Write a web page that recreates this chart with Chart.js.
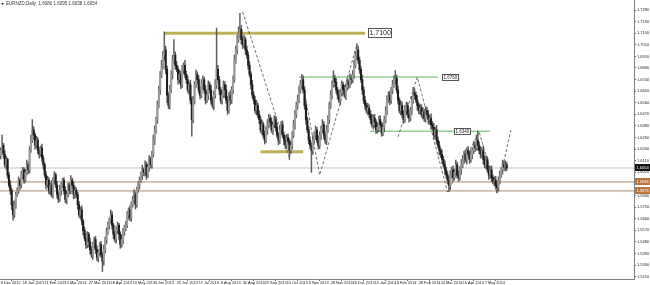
<!DOCTYPE html>
<html><head><meta charset="utf-8">
<script src="https://cdn.jsdelivr.net/npm/chart.js@4.4.0/dist/chart.umd.min.js"></script>
<style>html,body{margin:0;padding:0;background:#fff;overflow:hidden}#wrap{width:650px;height:285px;position:relative}</style>
</head><body><div id="wrap"><canvas id="c" width="650" height="285"></canvas></div>
<script>
const symbolTitle = 'EURNZD,Daily';
const headerValues = ['1.6080', '1.6095', '1.6038', '1.6054'];
const dateLabels = ['6 Dec 2012','18 Jan 2013','11 Feb 2013','5 Mar 2013','27 Mar 2013','18 Apr 2013','10 May 2013','3 Jun 2013','25 Jun 2013','17 Jul 2013','8 Aug 2013','30 Aug 2013','23 Sep 2013','15 Oct 2013','6 Nov 2013','28 Nov 2013','20 Dec 2013','15 Jan 2014','6 Feb 2014','28 Feb 2014','24 Mar 2014','15 Apr 2014','7 May 2014'];
const barsPerDateLabel = 16;
const firstOpen = 1.615;
const closes = [
1.619,1.623,1.616,1.608,1.612,1.600,1.592,1.588,1.577,1.569,
1.577,1.585,1.588,1.596,1.592,1.600,1.604,1.596,1.602,1.608,1.604,
1.619,1.627,1.635,1.631,1.623,
1.627,1.619,1.616,1.621,1.613,1.608,1.600,1.592,1.596,
1.588,1.592,1.585,1.596,1.600,1.592,1.585,1.581,1.588,1.592,1.596,1.588,1.581,1.585,1.592,1.588,1.596,1.592,1.585,1.588,
1.585,1.577,1.569,1.573,1.564,1.557,
1.551,1.546,1.554,1.548,1.542,1.538,1.546,1.550,1.542,1.536,1.540,1.546,1.538,1.533,
1.542,1.550,1.556,1.561,1.565,1.569,1.561,1.554,1.550,1.557,1.561,1.554,1.546,1.550,1.556,1.559,
1.561,1.569,1.573,1.567,1.577,1.581,1.585,1.577,1.589,1.592,1.596,1.600,1.604,
1.602,1.608,1.600,1.606,1.612,1.608,
1.616,1.627,1.635,1.643,1.654,1.666,1.678,
1.685,1.693,1.697,1.682,1.662,
1.654,1.666,1.678,1.689,1.693,1.685,
1.682,1.674,1.678,1.670,1.682,1.685,1.678,1.674,1.666,1.670,1.658,1.643,
1.658,1.670,1.678,1.674,1.666,1.662,1.670,1.674,1.666,1.658,1.662,1.670,1.666,1.658,1.654,1.662,1.670,
1.682,
1.674,1.666,1.658,1.662,1.670,1.666,1.658,1.650,1.662,1.658,1.666,1.674,
1.689,1.697,1.705,1.709,1.713,1.705,1.701,
1.705,1.697,1.693,1.685,1.678,
1.670,1.662,1.658,1.650,1.654,1.647,
1.643,1.635,1.639,1.631,1.627,1.635,
1.639,1.644,1.641,1.635,1.639,1.643,1.637,1.631,1.627,1.635,1.639,1.631,1.627,1.623,1.629,1.626,1.619,1.623,
1.631,1.639,1.647,1.654,1.658,1.666,1.670,1.674,
1.666,1.654,1.643,1.635,1.627,1.623,1.619,
1.627,1.631,1.635,1.627,1.623,1.631,1.635,1.639,1.631,1.627,1.635,1.643,
1.654,1.662,1.670,1.675,1.672,
1.666,1.662,1.658,1.664,1.670,1.666,1.662,1.668,1.672,1.670,1.675,1.674,1.678,
1.685,1.693,1.697,1.689,1.682,
1.674,1.666,1.658,1.654,1.650,1.652,
1.647,1.643,1.639,1.644,1.641,1.635,1.637,1.643,1.639,1.633,1.637,1.643,
1.650,1.658,1.662,1.658,1.666,1.670,1.674,1.675,1.666,
1.658,1.650,1.654,1.647,1.643,1.650,1.654,1.647,1.644,1.650,1.658,
1.664,1.662,1.658,
1.654,1.650,1.652,1.647,1.649,1.644,1.650,1.647,1.643,1.644,1.639,1.637,
1.631,1.635,1.627,1.623,1.619,1.616,1.612,1.608,1.604,1.600,1.596,1.592,
1.600,1.604,1.598,1.602,1.608,1.600,1.598,1.604,1.608,
1.612,1.616,1.612,1.619,1.616,1.612,1.616,1.619,1.623,1.621,1.627,
1.623,
1.619,1.616,1.619,1.612,1.608,1.612,1.604,1.600,1.604,1.598,1.595,1.596,1.592,1.590,
1.596,1.600,1.604,1.608,1.606,1.608,1.6054
];
const upperWicksPips = [
20,80,15,30,25,10,20,35,15,25, 30,15,20,25,10,30,20,15,25,35,
20,30,40,80,25,15,30,20,25,15, 30,20,15,25,30,20,15,35,20,25,
15,30,20,40,25,15,20,30,25,15, 20,35,15,25,30,20,15,25,20,30,
15,25,35,20,15,30,25,20,15,25, 30,20,15,25,20,35,20,30,25,15,
40,25,15,20,30,25,15,20,35,25, 20,30,25,15,30,20,25,35,20,15,
30,25,20,35,15,30,20,25,30,20, 25,40,30,20,35,30,25,40,30,140,
30,25,20,35,30,40,120,25,30,20, 35,25,30,20,40,25,30,20,35,25,
30,25,35,20,30,25,40,30,20,35, 25,30,20,35,25,30,40,320,30,25,
20,35,30,25,40,30,20,35,25,30, 40,30,35,60,125,30,25,35,20,30,
25,30,20,35,25,30,40,20,30,25, 35,20,30,25,40,30,25,35,20,30,
25,30,20,35,25,30,20,35,25,30, 20,30,25,35,30,25,40,30,35,40,
30,25,35,20,30,25,20,35,25,30, 20,35,25,30,40,25,20,35,30,25,
35,30,60,25,30,20,35,25,30,20, 35,25,30,20,35,25,30,40,30,50,
30,25,20,35,25,30,20,35,25,30, 40,25,30,20,35,25,30,20,35,25,
30,35,25,30,20,35,30,60,25,30, 20,35,25,30,40,25,20,35,25,30,
40,30,25,35,20,30,25,35,20,30, 25,30,20,35,25,30,20,35,25,30,
20,35,25,30,20,25,30,35,20,30, 25,35,20,30,25,40,30,25,35,20,
30,25,35,20,30,25,40,70,25,30, 20,35,25,30,20,35,25,30,20,25,
30,35,25,30,20,35,25,30,20
];
const lowerWicksPips = [
25,15,30,20,35,25,15,30,40,40, 20,30,15,25,35,20,30,25,15,20,
30,25,15,20,35,30,20,25,30,15, 25,35,20,30,15,25,35,20,30,25,
20,30,25,15,35,20,30,25,35,20, 30,25,20,35,30,25,35,20,30,25,
35,20,30,25,40,30,20,35,25,30, 25,35,30,20,80,30,25,35,20,30,
25,30,35,20,30,25,40,30,20,35, 30,25,20,35,25,30,20,25,35,20,
25,30,20,35,25,30,35,20,30,25, 30,20,35,25,30,20,35,25,30,40,
35,60,25,30,20,35,25,30,20,35, 25,30,20,35,25,30,20,35,30,130,
25,30,20,35,25,30,20,35,25,30, 20,35,25,30,20,35,25,30,20,35,
25,30,20,60,25,30,20,35,25,30, 20,25,30,20,25,35,30,20,35,25,
30,20,35,25,30,20,35,25,30,20, 35,25,30,20,35,25,30,20,35,25,
30,20,35,25,30,20,35,25,30,20, 70,25,30,20,35,25,30,20,25,30,
25,30,35,20,30,25,170,30,25,35, 20,30,25,35,20,30,25,35,20,30,
25,30,20,35,25,30,20,35,25,30, 20,35,25,30,20,35,25,30,20,35,
25,30,20,35,25,30,20,35,25,30, 20,35,40,30,25,35,20,30,25,35,
25,30,20,35,25,30,20,35,25,30, 20,35,25,30,20,35,25,30,20,35,
25,30,20,35,25,30,20,35,25,30, 20,35,25,30,20,35,25,30,20,35,
25,30,20,35,25,30,50,35,25,30, 20,35,25,30,20,35,25,30,20,35,
25,30,20,35,25,30,20,35,25,30, 20,35,25,30,20,35,25,30,20,35,
30,40,25,30,20,35,25,30,20
];
const yTickValues = [1.7280,1.7190,1.7100,1.7010,1.6920,1.6830,1.6740,1.6650,1.6560,1.6470,1.6380,1.6290,1.6200,1.6110,1.6020,1.5930,1.5840,1.5750,1.5660,1.5570,1.5480,1.5390,1.5300,1.5210];
const yMin = 1.51926, yMax = 1.73576;
const xMin = -0.5, xMax = 460.6;
// [fromBar, toBar, price]
const goldLevels = [[119, 265, 1.7100], [189, 220, 1.6180]];
const greenLevels = [[217, 318, 1.6760], [269, 356, 1.6340]];
// [bar where label box starts, price, text]
const levelLabels = [[267.5, 1.7100, '1.7100'], [321, 1.6760, '1.6760'], [330, 1.6340, '1.6340']];
const currentPrice = 1.6054;
const brownLevels = [1.5946, 1.5876];
const zigzagA = [[176, 1.7265], [210, 1.6132]];
const zigzagB = [[219, 1.6752], [232, 1.5999], [259, 1.7008]];
const zigzagC = [[289, 1.6295], [303, 1.6760], [325, 1.5868], [348, 1.6333], [361, 1.5860], [371, 1.6349]];

const FONT = '"Liberation Sans", Arial, sans-serif';
const opens = closes.map((c, i) => i === 0 ? firstOpen : closes[i - 1]);
const highs = closes.map((c, i) => Math.max(opens[i], c) + upperWicksPips[i] / 10000);
const lows = closes.map((c, i) => Math.min(opens[i], c) - lowerWicksPips[i] / 10000);

const datasets = [];
datasets.push({
  type: 'bar', label: 'body', grouped: false, order: 0,
  data: closes.map((c, i) => ({x: i, y: [opens[i], c]})),
  backgroundColor: closes.map((c, i) => c >= opens[i] ? '#9c9c9c' : '#1c1c1c'),
  barThickness: 1.4, minBarLength: 1, borderWidth: 0
});
datasets.push({
  type: 'bar', label: 'wick', grouped: false, order: 1,
  data: closes.map((c, i) => ({x: i, y: [lows[i], highs[i]]})),
  backgroundColor: '#5a5a5a', barThickness: 0.8, borderWidth: 0
});
const seg = (pts, color, width, dash, order) => ({
  type: 'line', data: pts.map(p => ({x: p[0], y: p[1]})), borderColor: color,
  borderWidth: width, borderDash: dash, pointRadius: 0, fill: false, tension: 0, order
});
[zigzagA, zigzagB, zigzagC].forEach(z => datasets.push(seg(z, '#4a4a4a', 0.8, [3, 2], 2)));
goldLevels.forEach(l => datasets.push(seg([[l[0], l[2]], [l[1], l[2]]], '#bfae5a', 3, [], 4)));
greenLevels.forEach(l => datasets.push(seg([[l[0], l[2]], [l[1], l[2]]], '#5cb85c', 1, [], 4)));
datasets.push(seg([[xMin, currentPrice], [xMax, currentPrice]], '#c4c4c4', 1, [], 6));
brownLevels.forEach(p => datasets.push(seg([[xMin, p], [xMax, p]], '#a88a70', 1, [], 6)));

function box(ctx, text, x, yMid, size, fill, stroke, color, fixedW) {
  ctx.font = size + 'px ' + FONT;
  const w = fixedW || Math.round(ctx.measureText(text).width + 3);
  const h = Math.round(size + 2.5);
  const top = Math.round(yMid - h / 2);
  ctx.fillStyle = fill;
  ctx.fillRect(x, top, w, h);
  if (stroke) { ctx.strokeStyle = stroke; ctx.lineWidth = 1; ctx.strokeRect(x + 0.5, top + 0.5, w - 1, h - 1); }
  ctx.fillStyle = color;
  ctx.textBaseline = 'middle';
  ctx.textAlign = 'left';
  ctx.fillText(text, x + 1.5, top + h / 2 + 0.5);
}

const overlay = {
  id: 'overlay',
  afterDraw(chart) {
    const ctx = chart.ctx, xs = chart.scales.x, ys = chart.scales.y;
    ctx.save();
    // header
    ctx.fillStyle = '#333';
    ctx.beginPath(); ctx.moveTo(1, 3); ctx.lineTo(4, 3); ctx.lineTo(2.5, 5); ctx.closePath(); ctx.fill();
    ctx.font = '4.5px ' + FONT; ctx.textBaseline = 'middle'; ctx.textAlign = 'left';
    ctx.fillText(symbolTitle + '  ' + headerValues.join(' '), 6, 4);
    // level labels
    levelLabels.forEach((l, k) => {
      const size = k === 0 ? 7 : 4.5;
      box(ctx, l[2], Math.round(xs.getPixelForValue(l[0])), ys.getPixelForValue(l[1]), size, '#ffffff', '#555555', '#222222');
    });
    // right axis price boxes
    const ax = Math.round(chart.chartArea.right) + 1;
    box(ctx, currentPrice.toFixed(4), ax, ys.getPixelForValue(currentPrice), 4, '#111111', null, '#ffffff', 15);
    brownLevels.forEach(p => box(ctx, p.toFixed(4), ax, ys.getPixelForValue(p), 4, '#b8763e', null, '#ffffff', 15));
    ctx.restore();
  }
};

new Chart(document.getElementById('c'), {
  type: 'bar',
  data: {datasets},
  options: {
    responsive: false, devicePixelRatio: 1, animation: false,
    layout: {padding: 0},
    plugins: {legend: {display: false}, tooltip: {enabled: false}},
    scales: {
      x: {
        type: 'linear', min: xMin, max: xMax, offset: false,
        grid: {display: true, drawOnChartArea: false, drawTicks: true, tickLength: 2, color: '#666'},
        border: {display: true, color: '#808080'},
        ticks: {autoSkip: false, maxRotation: 0, minRotation: 0, align: 'start', padding: 0,
          font: {size: 3.9, family: FONT}, color: '#222',
          callback: (v, i) => dateLabels[i]},
        afterBuildTicks: s => { s.ticks = dateLabels.map((_, k) => ({value: k * barsPerDateLabel})); },
        afterFit: s => { s.height = 6; s.paddingLeft = 0; s.paddingRight = 0; }
      },
      y: {
        type: 'linear', position: 'right', min: yMin, max: yMax,
        grid: {display: true, drawOnChartArea: false, drawTicks: true, tickLength: 2, color: '#666'},
        border: {display: true, color: '#808080'},
        ticks: {padding: 1, font: {size: 4, family: FONT}, color: '#222', callback: v => Number(v).toFixed(4)},
        afterBuildTicks: s => { s.ticks = yTickValues.map(v => ({value: v})); },
        afterFit: s => { s.width = 16; s.paddingTop = 0; s.paddingBottom = 0; }
      }
    }
  },
  plugins: [overlay]
});
</script>
</body></html>
